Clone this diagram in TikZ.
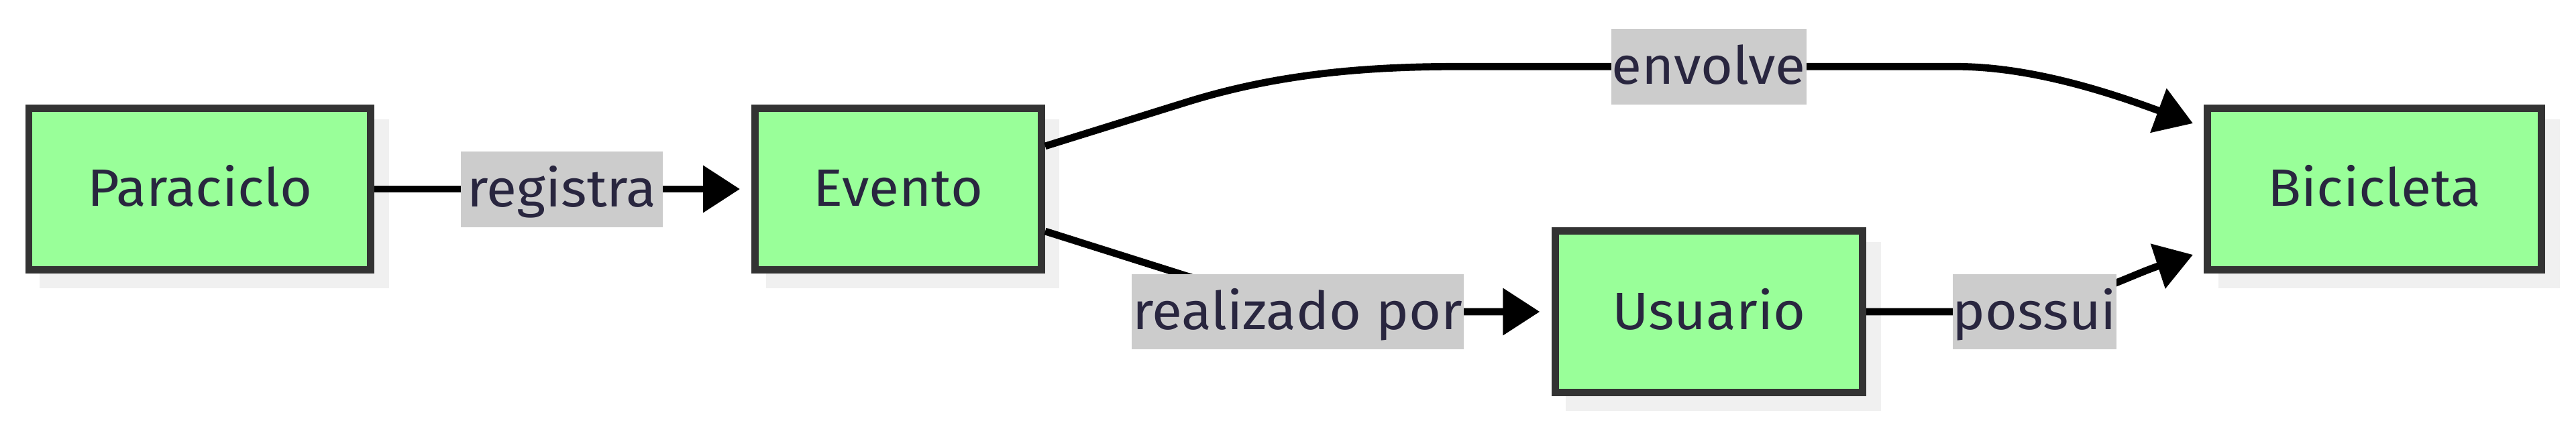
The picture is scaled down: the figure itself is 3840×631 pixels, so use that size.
\documentclass[tikz,border=0pt]{standalone}
\usepackage{fontspec}
\setmainfont{Fira Sans}[FakeStretch=1.05]
\usetikzlibrary{arrows.meta,backgrounds}
\definecolor{nodefill}{HTML}{99FF99}
\definecolor{nodeline}{HTML}{333333}
\definecolor{lblfill}{HTML}{CCCCCC}
\definecolor{txt}{HTML}{29263F}
\definecolor{shd}{HTML}{F0F0F0}
\tikzset{
  basefont/.style={font=\fontsize{19.6}{23}\selectfont, text=txt, text height=17pt, text depth=4pt},
  entity/.style={basefont, draw=nodeline, fill=nodefill, line width=2.675pt,
    minimum height=60.3pt, inner sep=0pt},
  elabel/.style={basefont, fill=lblfill, inner sep=0pt, minimum height=28.15pt},
  conn/.style={draw=black, line width=2.675pt, -{Triangle[length=13.75pt,width=17pt]}},
}
\begin{document}
\begin{tikzpicture}[x=0.25pt,y=-0.25pt]
\useasboundingbox (0,0) rectangle (3840,631);
% entities
\node[entity, minimum width=127.45pt] (par) at (297.75,282) {Paraciclo};
\node[entity, minimum width=106.8pt]  (evt) at (1339,282)   {Evento};
\node[entity, minimum width=114.6pt]  (usu) at (2547.5,465) {Usuario};
\node[entity, minimum width=124.6pt]  (bic) at (3539.5,282) {Bicicleta};
% background and shadows
\begin{scope}[on background layer]
  \fill[white] (0,0) rectangle (3840,631);
  \foreach \n in {par,evt,usu,bic}
    \fill[shd] ([shift={(21.5,22)}]\n.north west) rectangle ([shift={(21.5,22)}]\n.south east);
\end{scope}
% connectors
\draw[conn, shorten >=4.25pt] (par.east) -- (evt.west);
\draw[conn] ([shift={(0,-64)}]evt.east) -- (1770,152)
  .. controls (1880,118) and (2000,99.3) .. (2170,99.3) -- (2916,99.3)
  .. controls (3030,99.3) and (3150,140) .. ([shift={(-16,-98)}]bic.west);
\draw[conn, shorten >=4.4pt] ([shift={(0,63)}]evt.east) -- (1770,412)
  .. controls (1880,446) and (2000,465) .. (2170,465) -- (usu.west);
\draw[conn] (usu.east) -- (2950,465)
  .. controls (3080,465) and (3165,414) .. ([shift={(-16,98)}]bic.west);
% edge labels
\node[elabel, minimum width=75.25pt]  (lreg) at (837.5,282.3) {registra};
\node[elabel, minimum width=72.75pt]  (lenv) at (2547,99.3)   {envolve};
\node[elabel, minimum width=123.85pt] (lrea) at (1934.3,465)  {realizado por};
\node[elabel, minimum width=60.4pt]   (lpos) at (3033,465)    {possui};
\end{tikzpicture}
\end{document}
